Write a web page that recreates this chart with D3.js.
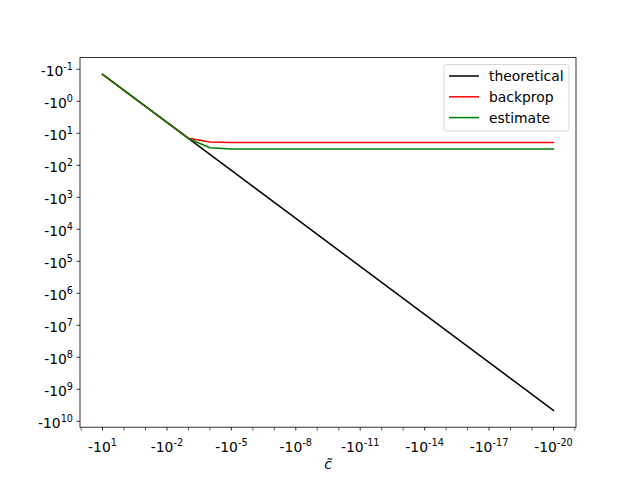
<!DOCTYPE html>
<html><head><meta charset="utf-8">
<script src="https://cdn.jsdelivr.net/npm/d3@7"></script>
<style>body{margin:0;background:#fff}svg{display:block}text{font-family:"DejaVu Sans",sans-serif}</style>
</head><body>
<script>
// x values (negative, magnitudes 10^1 ... 10^-20)
const xValues = [-1e1,-1e0,-1e-1,-1e-2,-1e-3,-1e-4,-1e-5,-1e-6,-1e-7,-1e-8,-1e-9,-1e-10,-1e-11,-1e-12,-1e-13,-1e-14,-1e-15,-1e-16,-1e-17,-1e-18,-1e-19,-1e-20];
const theoretical = [-0.1445,-0.457,-1.445,-4.57,-14.45,-45.7,-144.5,-457,-1445,-4570,-1.445e4,-4.57e4,-1.445e5,-4.57e5,-1.445e6,-4.57e6,-1.445e7,-4.57e7,-1.445e8,-4.57e8,-1.445e9,-4.57e9];
const backprop = [-0.1445,-0.457,-1.445,-4.57,-14.2,-18.6,-19.5,-19.5,-19.5,-19.5,-19.5,-19.5,-19.5,-19.5,-19.5,-19.5,-19.5,-19.5,-19.5,-19.5,-19.5,-19.5];
const estimate = [-0.1445,-0.457,-1.445,-4.57,-14.6,-28.2,-30.9,-30.9,-30.9,-30.9,-30.9,-30.9,-30.9,-30.9,-30.9,-30.9,-30.9,-30.9,-30.9,-30.9,-30.9,-30.9];
const seriesNames = ["theoretical","backprop","estimate"];
const seriesColors = ["#000000","#ff0000","#008000"];
const xTickExps = [1,0,-1,-2,-3,-4,-5,-6,-7,-8,-9,-10,-11,-12,-13,-14,-15,-16,-17,-18,-19,-20,-21,2];
const xLabelExps = [1,-2,-5,-8,-11,-14,-17,-20];
const yTickExps = [-1,0,1,2,3,4,5,6,7,8,9,10];

const W=640,H=480, L=80, R=576, T=57.6, B=427.2;
const svg=d3.select("body").append("svg").attr("width",W).attr("height",H);
const x=d3.scaleLog().domain([-Math.pow(10,2.05),-Math.pow(10,-21.05)]).range([L,R]);
const y=d3.scaleLog().domain([-Math.pow(10,-1.365),-Math.pow(10,10.185)]).range([T,B]);

const g=svg.append("g");
const line=d3.line().x(d=>x(d[0])).y(d=>y(d[1]));
const allSeries=[theoretical,backprop,estimate];
allSeries.forEach((s,i)=>{
  g.append("path").datum(xValues.map((xv,j)=>[xv,s[j]]))
   .attr("d",line).attr("fill","none").attr("stroke",seriesColors[i])
   .attr("stroke-width",1.5).attr("stroke-linejoin","round").attr("stroke-linecap","square");
});

// frame
svg.append("rect").attr("x",L).attr("y",T).attr("width",R-L).attr("height",B-T)
  .attr("fill","none").attr("stroke","#000").attr("stroke-width",0.8);

// x ticks
const xt=svg.append("g");
xTickExps.forEach(e=>{
  const px=x(-Math.pow(10,e));
  if(px<L-0.5||px>R+0.5) return;
  const major=xLabelExps.includes(e);
  xt.append("line").attr("x1",px).attr("x2",px).attr("y1",B).attr("y2",B+(major?3.5:3.5))
    .attr("stroke","#000").attr("stroke-width",major?0.8:0.6);
});
xLabelExps.forEach(e=>{
  const px=x(-Math.pow(10,e));
  const t=xt.append("text").attr("x",px).attr("y",451.5).attr("text-anchor","middle").attr("font-size",13.9);
  t.append("tspan").text("-10");
  t.append("tspan").attr("dy",-6).attr("font-size",9.7).text(String(e).replace("-","-"));
});
// y ticks
const yt=svg.append("g");
yTickExps.forEach(e=>{
  const py=y(-Math.pow(10,e));
  yt.append("line").attr("x1",L-3.5).attr("x2",L).attr("y1",py).attr("y2",py).attr("stroke","#000").attr("stroke-width",0.8);
  const t=yt.append("text").attr("x",73).attr("y",py+6.5).attr("text-anchor","end").attr("font-size",13.9);
  t.append("tspan").text("-10");
  t.append("tspan").attr("dy",-6).attr("font-size",9.7).text(String(e));
});
// x label
svg.append("text").attr("x",(L+R)/2).attr("y",469).attr("text-anchor","middle")
  .attr("font-family","'DejaVu Serif',serif").attr("font-style","italic").attr("font-size",13.9).text("c\u0303");

// legend
const lg=svg.append("g");
lg.append("rect").attr("x",444).attr("y",64.5).attr("width",125).attr("height",66.5).attr("rx",2.5)
  .attr("fill","#fff").attr("fill-opacity",0.8).attr("stroke","#cccccc").attr("stroke-width",0.8);
seriesNames.forEach((n,i)=>{
  const cy=76+i*20.8;
  lg.append("line").attr("x1",449).attr("x2",479).attr("y1",cy).attr("y2",cy).attr("stroke",seriesColors[i]).attr("stroke-width",1.5);
  lg.append("text").attr("x",489).attr("y",cy+5).attr("font-size",13.9).text(n);
});
</script>
</body></html>
